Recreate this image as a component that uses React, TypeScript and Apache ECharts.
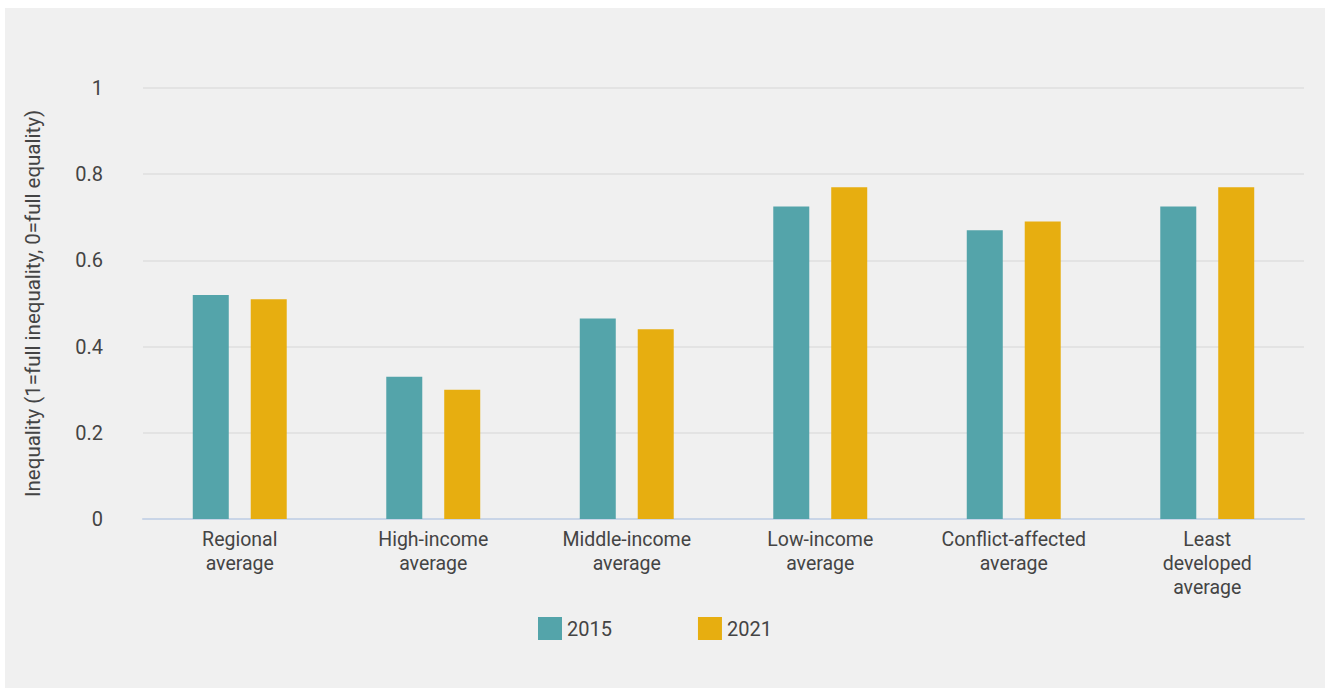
import React, { useEffect, useRef } from "react";
import * as echarts from "echarts";

const categories = [
  "Regional\naverage",
  "High-income\naverage",
  "Middle-income\naverage",
  "Low-income\naverage",
  "Conflict-affected\naverage",
  "Least\ndeveloped\naverage",
];
const values2015 = [0.52, 0.33, 0.465, 0.725, 0.67, 0.725];
const values2021 = [0.51, 0.3, 0.44, 0.77, 0.69, 0.77];
const yTicks = [0, 0.2, 0.4, 0.6, 0.8, 1];

const FONT = "'Roboto', sans-serif";

export default function App() {
  const ref = useRef<HTMLDivElement>(null);
  useEffect(() => {
    if (!ref.current) return;
    const chart = echarts.init(ref.current, null, { renderer: "svg" });
    chart.setOption({
      animation: false,
      backgroundColor: "#f0f0f0",
      textStyle: { fontFamily: FONT },
      grid: { left: 138, right: 21, top: 80, bottom: 169 },
      legend: {
        left: 528,
        top: 604,
        itemWidth: 24,
        itemHeight: 23,
        itemGap: 86,
        icon: "rect",
        textStyle: { fontSize: 20, color: "#444", fontFamily: FONT },
        data: ["2015", "2021"],
      },
      xAxis: {
        type: "category",
        data: categories,
        axisLine: { lineStyle: { color: "#c9d5e7", width: 2 } },
        axisTick: { show: false },
        axisLabel: {
          fontSize: 19.5,
          color: "#444",
          lineHeight: 24,
          margin: 8,
          interval: 0,
          fontFamily: FONT,
        },
      },
      yAxis: {
        type: "value",
        min: yTicks[0],
        max: yTicks[yTicks.length - 1],
        interval: 0.2,
        name: "Inequality (1=full inequality, 0=full equality)",
        nameLocation: "middle",
        nameRotate: 90,
        nameGap: 100,
        nameTextStyle: { fontSize: 20.5, color: "#444", fontFamily: FONT },
        axisLabel: {
          fontSize: 20,
          color: "#444",
          margin: 40,
          fontFamily: FONT,
          formatter: (v: number) => String(Math.round(v * 10) / 10),
        },
        splitLine: { lineStyle: { color: "#e3e3e3", width: 2 } },
        axisLine: { show: false },
        axisTick: { show: false },
      },
      series: [
        {
          name: "2015",
          type: "bar",
          data: values2015,
          barWidth: 36,
          barGap: "61%",
          itemStyle: { color: "#54a4aa" },
        },
        {
          name: "2021",
          type: "bar",
          data: values2021,
          barWidth: 36,
          itemStyle: { color: "#e7ae10" },
        },
      ],
    });
    return () => chart.dispose();
  }, []);
  return (
    <div
      ref={ref}
      style={{
        position: "absolute",
        left: 5,
        top: 8,
        width: 1320,
        height: 680,
      }}
    />
  );
}
